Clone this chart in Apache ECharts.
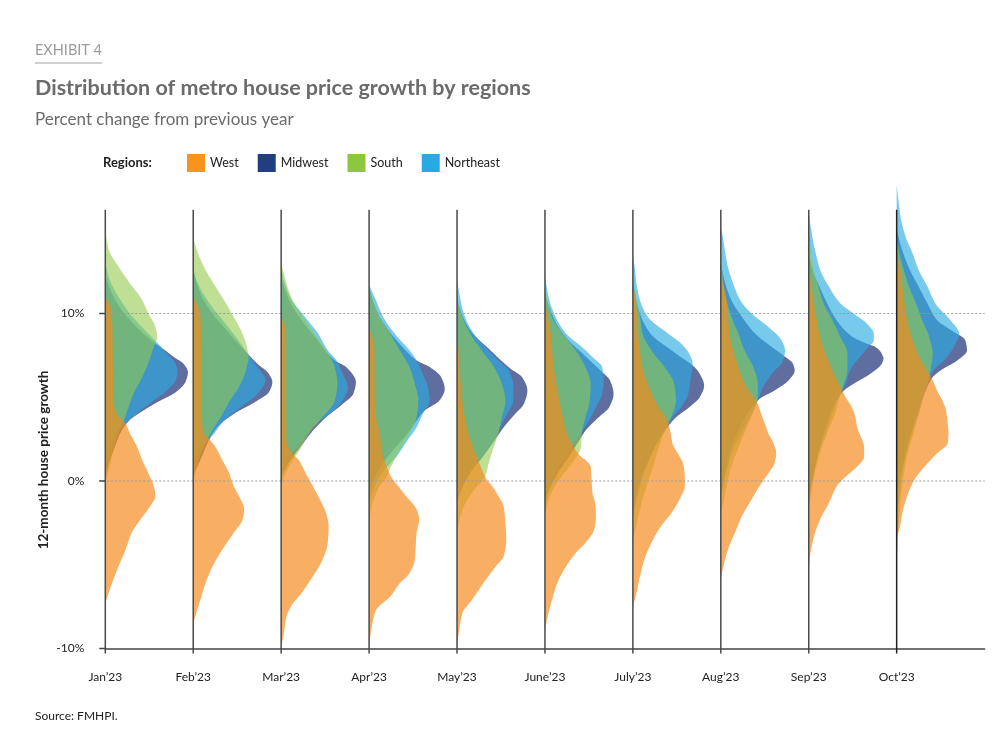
<!DOCTYPE html>
<html><head><meta charset="utf-8">
<script src="https://cdn.jsdelivr.net/npm/echarts@6/dist/echarts.min.js"></script>
<style>html,body{margin:0;padding:0;background:#fff}#c{width:1000px;height:749px}</style>
</head><body><div id="c"></div>
<script>
// ---------- DATA ----------
const months = ['Jan’23','Feb’23','Mar’23','Apr’23','May’23','June’23','July’23','Aug’23','Sep’23','Oct’23'];
const regionNames = ['West','Midwest','South','Northeast'];
const yTickValues = [-10, 0, 10];
const gridValues = [0, 10];
const lineTop = 16.2;
// per month: [growth %, density width (in units of month spacing)]
const west = [
  [[-7.3,0],[-6.1,0.076],[-5.1,0.15],[-4.1,0.23],[-3.1,0.30],[-2.3,0.40],[-1.5,0.51],[-0.9,0.57],[-0.3,0.55],[0.46,0.49],[1.25,0.42],[2.05,0.36],[2.85,0.28],[3.44,0.23],[4.0,0.13],[4.8,0.095],[6.8,0.087],[8.8,0.083],[10.2,0.07],[11.0,0]],
  [[-8.5,0],[-7.1,0.08],[-6.1,0.14],[-5.1,0.22],[-4.1,0.33],[-3.1,0.46],[-2.3,0.56],[-1.7,0.58],[-1.1,0.54],[-0.3,0.46],[0.46,0.41],[1.25,0.33],[2.05,0.25],[2.4,0.2],[3.0,0.11],[4,0.1],[7,0.095],[10,0.08],[11,0]],
  [[-9.9,0],[-9.1,0.03],[-8.1,0.06],[-7.5,0.11],[-6.7,0.23],[-5.7,0.36],[-4.7,0.47],[-3.7,0.53],[-2.7,0.54],[-1.9,0.51],[-1.1,0.44],[-0.3,0.36],[0.46,0.28],[1.25,0.2],[1.8,0.1],[2.5,0.06],[6,0.055],[9,0.05],[9.8,0]],
  [[-9.9,0],[-8.7,0.03],[-7.7,0.08],[-6.9,0.24],[-6.1,0.35],[-5.5,0.46],[-4.7,0.52],[-3.9,0.53],[-3.1,0.54],[-2.3,0.57],[-1.7,0.54],[-0.9,0.42],[-0.3,0.33],[0.26,0.25],[0.86,0.2],[1.65,0.15],[2.85,0.12],[3.8,0.08],[5,0.065],[8,0.06],[9.2,0]],
  [[-9.9,0],[-9.1,0.02],[-7.9,0.06],[-7.1,0.17],[-6.1,0.30],[-5.1,0.44],[-4.5,0.53],[-3.5,0.56],[-2.5,0.55],[-1.5,0.53],[-0.9,0.47],[-0.3,0.40],[0.06,0.34],[0.86,0.27],[1.65,0.21],[2.85,0.13],[4.8,0.06],[6.8,0.03],[9.2,0]],
  [[-8.9,0],[-8.1,0.03],[-7.1,0.08],[-6.1,0.14],[-5.1,0.24],[-4.3,0.35],[-3.7,0.46],[-2.9,0.56],[-2.1,0.58],[-1.3,0.57],[-0.7,0.54],[0.06,0.53],[0.86,0.52],[1.25,0.46],[1.5,0.4],[2.85,0.25],[4.4,0.18],[6.8,0.10],[8.8,0.065],[10.6,0]],
  [[-7.5,0],[-6.7,0.04],[-5.7,0.08],[-4.7,0.13],[-3.7,0.21],[-2.7,0.32],[-1.9,0.44],[-1.1,0.53],[-0.3,0.59],[0.26,0.59],[1.05,0.57],[1.65,0.51],[2.25,0.45],[2.85,0.43],[3.44,0.40],[4.8,0.25],[6.8,0.11],[8.8,0.06],[10.8,0.03],[11.8,0]],
  [[-5.9,0],[-5.1,0.03],[-4.1,0.08],[-3.1,0.16],[-2.1,0.24],[-1.1,0.35],[-0.3,0.44],[0.46,0.54],[1.05,0.61],[1.65,0.63],[2.25,0.60],[2.85,0.54],[3.44,0.50],[4.0,0.46],[4.6,0.42],[5.8,0.27],[6.8,0.2],[8.8,0.10],[10.8,0.065],[11.8,0.02],[12.2,0]],
  [[-5.3,0],[-4.3,0.02],[-3.3,0.06],[-2.3,0.13],[-1.3,0.23],[-0.3,0.32],[0.26,0.42],[0.86,0.55],[1.45,0.63],[2.05,0.63],[2.65,0.59],[3.24,0.55],[3.84,0.53],[4.4,0.49],[5.0,0.42],[5.4,0.38],[6.6,0.27],[8.6,0.13],[10.6,0.06],[12,0.02],[12.6,0]],
  [[-3.3,0],[-2.9,0.03],[-1.9,0.065],[-0.9,0.12],[0.06,0.2],[1.05,0.35],[1.65,0.46],[2.25,0.58],[2.85,0.59],[3.44,0.58],[4.24,0.56],[4.8,0.52],[5.4,0.46],[6.0,0.41],[7.6,0.24],[9.6,0.12],[11.6,0.065],[13,0.03],[13.4,0]]
];
const midwest = [
  [[0.3,0],[0.86,0.03],[1.85,0.095],[2.85,0.17],[3.6,0.27],[4.1,0.40],[4.7,0.59],[5.3,0.80],[5.9,0.91],[6.5,0.94],[7.0,0.89],[7.4,0.78],[7.8,0.68],[8.5,0.5],[9.5,0.3],[10.5,0.15],[11.5,0.05],[12.3,0]],
  [[0.3,0],[1.25,0.08],[2.45,0.18],[3.2,0.27],[4.0,0.46],[4.8,0.73],[5.3,0.86],[5.9,0.90],[6.4,0.86],[7.0,0.73],[8,0.55],[9,0.38],[10,0.22],[11,0.1],[12,0.03],[12.7,0]],
  [[0.3,0],[1.2,0.1],[2.25,0.25],[3.0,0.36],[3.8,0.51],[4.6,0.70],[5.2,0.82],[5.9,0.85],[6.8,0.74],[7.2,0.61],[8.5,0.4],[9.5,0.25],[10.5,0.12],[11.5,0.04],[12.2,0]],
  [[-0.8,0],[0,0.05],[1,0.15],[2,0.3],[2.85,0.44],[3.6,0.54],[4.2,0.63],[4.8,0.80],[5.5,0.86],[6.2,0.82],[6.8,0.69],[7.2,0.54],[8,0.38],[9,0.22],[10,0.1],[11,0.03],[11.6,0]],
  [[-1.2,0],[-0.5,0.05],[0.5,0.15],[1.5,0.3],[2.6,0.45],[3.2,0.53],[4.0,0.66],[4.6,0.76],[5.4,0.80],[6.2,0.74],[6.7,0.61],[7.8,0.38],[9,0.15],[10,0.05],[10.8,0]],
  [[-1.2,0],[-0.5,0.05],[0.5,0.15],[1.5,0.28],[2.6,0.41],[3.0,0.46],[3.8,0.61],[4.4,0.73],[5.2,0.78],[6.0,0.74],[6.6,0.63],[7.5,0.45],[8.5,0.25],[9.5,0.12],[10.5,0.04],[11.2,0]],
  [[-2,0],[-1.5,0.02],[0,0.08],[1.5,0.2],[2.5,0.3],[3.4,0.42],[3.8,0.49],[4.4,0.64],[5.0,0.76],[5.7,0.81],[6.4,0.76],[6.9,0.68],[7.2,0.6],[7.8,0.44],[8.8,0.2],[10,0.08],[11,0.03],[12,0]],
  [[-1,0],[0.5,0.05],[2,0.12],[3,0.2],[4,0.3],[4.9,0.44],[5.4,0.61],[6.0,0.77],[6.6,0.84],[7.0,0.82],[7.5,0.71],[8,0.58],[8.8,0.39],[9.8,0.24],[10.8,0.12],[12,0.04],[13,0]],
  [[-1,0],[0,0.04],[1.5,0.1],[3,0.18],[4.5,0.28],[5.4,0.40],[5.8,0.51],[6.4,0.70],[7.0,0.83],[7.3,0.85],[7.6,0.83],[8.0,0.76],[8.2,0.66],[8.6,0.5],[9.5,0.33],[10.5,0.22],[11.5,0.13],[12.5,0.05],[13.5,0]],
  [[-1,0],[0.5,0.05],[2,0.12],[3.5,0.2],[5,0.3],[6.2,0.41],[6.6,0.5],[7.2,0.69],[7.8,0.80],[8.4,0.78],[9.0,0.62],[9.6,0.46],[10.6,0.35],[11.6,0.25],[12.6,0.15],[14,0.05],[15,0]]
];
const south = [
  [[-0.2,0],[0.9,0.05],[2.4,0.12],[3.6,0.21],[4.2,0.25],[5.2,0.32],[6.2,0.42],[7.2,0.50],[8.0,0.55],[8.6,0.59],[9.2,0.57],[10,0.49],[10.8,0.42],[11.8,0.28],[12.8,0.15],[13.8,0.04],[14.9,0]],
  [[0,0],[1,0.05],[2,0.12],[2.85,0.2],[3.8,0.31],[4.8,0.42],[5.8,0.54],[6.8,0.61],[7.4,0.63],[8.0,0.61],[8.8,0.56],[9.8,0.46],[10.8,0.35],[11.8,0.23],[12.8,0.12],[13.8,0.04],[14.5,0]],
  [[-0.5,0],[0,0.02],[1.05,0.11],[1.85,0.21],[2.85,0.32],[3.8,0.47],[4.8,0.61],[5.8,0.64],[6.8,0.61],[7.8,0.51],[8.8,0.38],[9.8,0.25],[10.8,0.13],[11.8,0.06],[13,0]],
  [[-2.5,0],[-1.5,0.03],[-0.5,0.1],[0.26,0.2],[0.86,0.25],[1.85,0.35],[2.85,0.46],[3.8,0.54],[4.8,0.56],[5.8,0.52],[6.8,0.46],[7.8,0.35],[8.8,0.24],[9.8,0.12],[10.8,0.045],[11.6,0]],
  [[-3,0],[-2.5,0.02],[-1.5,0.08],[-0.5,0.2],[0.26,0.32],[1.05,0.36],[2.05,0.42],[2.85,0.47],[3.8,0.51],[4.8,0.55],[5.8,0.51],[6.8,0.42],[7.8,0.28],[8.8,0.15],[9.8,0.06],[10.8,0]],
  [[-2,0],[-1,0.05],[0,0.15],[1,0.3],[2.05,0.41],[2.85,0.42],[3.8,0.46],[4.8,0.51],[5.8,0.52],[6.8,0.46],[7.8,0.35],[8.8,0.2],[9.8,0.08],[10.8,0.03],[11.5,0]],
  [[-3.6,0],[-3.1,0.02],[-1.1,0.11],[0.86,0.23],[2.4,0.32],[3.4,0.40],[4.0,0.45],[4.8,0.49],[5.8,0.47],[6.8,0.36],[7.8,0.21],[8.8,0.11],[9.8,0.08],[10.8,0.04],[12,0]],
  [[-2,0],[-1,0.04],[0.5,0.1],[2,0.2],[3,0.28],[4,0.36],[5.0,0.42],[5.8,0.42],[6.8,0.37],[7.8,0.27],[8.8,0.2],[9.8,0.12],[10.8,0.065],[11.8,0.03],[13.4,0]],
  [[-1.5,0],[-1,0.02],[0.5,0.07],[2,0.15],[3,0.22],[4,0.3],[5,0.35],[5.8,0.40],[6.6,0.44],[7.6,0.44],[8.6,0.36],[9.6,0.27],[10.6,0.17],[11.6,0.11],[12.6,0.06],[13.6,0.03],[14.6,0]],
  [[-4.7,0],[-2,0.03],[0,0.07],[1.5,0.12],[3,0.2],[4,0.25],[5,0.3],[6,0.36],[6.8,0.39],[7.6,0.41],[8.6,0.37],[9.6,0.29],[10.6,0.22],[11.6,0.14],[12.6,0.08],[13.6,0.03],[14.6,0]]
];
const northeast = [
  [[1,0],[2,0.05],[3,0.15],[3.6,0.27],[4.2,0.40],[4.8,0.55],[5.4,0.70],[6.0,0.80],[6.5,0.82],[7.0,0.80],[7.6,0.70],[8.2,0.6],[9,0.45],[10,0.28],[11,0.15],[12,0.05],[13,0]],
  [[1,0],[2,0.1],[2.85,0.24],[3.6,0.35],[4.4,0.54],[5.2,0.73],[6.0,0.82],[6.8,0.73],[7.5,0.63],[8.5,0.5],[9.5,0.35],[10.5,0.2],[11.5,0.08],[12.5,0]],
  [[0,0],[0.5,0.02],[1.5,0.1],[2.45,0.25],[3.25,0.36],[4.0,0.55],[4.8,0.70],[5.6,0.76],[6.4,0.70],[7.2,0.63],[7.8,0.53],[8.8,0.42],[9.8,0.27],[11,0.1],[12,0.03],[12.8,0]],
  [[-1.2,0],[-0.5,0.05],[0.5,0.15],[1.45,0.31],[2.45,0.44],[3.2,0.54],[4.0,0.61],[4.8,0.69],[5.6,0.67],[6.4,0.61],[7.2,0.54],[7.8,0.46],[8.8,0.29],[9.8,0.16],[11,0.06],[11.7,0]],
  [[-1.2,0],[-0.5,0.05],[0.5,0.15],[1.5,0.3],[2.6,0.44],[3.2,0.49],[4.0,0.57],[4.8,0.64],[5.6,0.64],[6.6,0.59],[7.2,0.47],[7.8,0.36],[8.8,0.19],[9.8,0.09],[10.8,0.04],[12,0]],
  [[-1.5,0],[-1,0.02],[0,0.08],[1,0.18],[2,0.3],[2.85,0.41],[3.6,0.50],[4.4,0.58],[5.2,0.65],[6.0,0.67],[6.8,0.65],[7.4,0.54],[8.0,0.42],[8.8,0.24],[9.8,0.12],[10.8,0.05],[12.2,0]],
  [[-2,0],[-1,0.05],[0.5,0.13],[2,0.25],[3.2,0.38],[3.8,0.45],[4.4,0.55],[5.2,0.63],[6.2,0.66],[7.0,0.68],[7.6,0.64],[8.2,0.55],[8.8,0.40],[9.8,0.17],[10.8,0.08],[11.8,0.04],[12.8,0.02],[13.4,0]],
  [[-1,0],[0.5,0.06],[2,0.15],[3,0.25],[4,0.35],[4.8,0.42],[5.6,0.48],[6.4,0.58],[7.2,0.71],[7.8,0.73],[8.4,0.69],[9.2,0.54],[10,0.35],[10.8,0.22],[11.8,0.14],[12.8,0.08],[13.8,0.045],[14.8,0.015],[15.1,0]],
  [[-1,0],[0,0.04],[1.5,0.1],[3,0.2],[4.5,0.3],[5.8,0.42],[6.6,0.47],[7.2,0.55],[8.0,0.68],[8.4,0.74],[8.8,0.74],[9.4,0.66],[10,0.51],[10.6,0.36],[11.6,0.23],[12.6,0.13],[13.6,0.08],[14.6,0.04],[16,0]],
  [[-2,0],[-1,0.03],[1,0.08],[2.5,0.15],[4,0.25],[5.5,0.33],[6.6,0.42],[7.2,0.54],[8.0,0.65],[8.8,0.71],[9.6,0.61],[10.6,0.44],[11.6,0.35],[12.6,0.25],[13.6,0.18],[14.6,0.1],[15.6,0.05],[17,0.015],[17.7,0]]
];

// ---------- STYLE ----------
const baseColors = { West:'#F7941D', Midwest:'#1F3F80', South:'#8DC63F', Northeast:'#27AAE1' };
const fillColors = { West:'#F5891A', Midwest:'#283A7E', South:'#94CA4C', Northeast:'#2AACE2' };
const fillOpacity = { West:0.68, Midwest:0.74, South:0.6, Northeast:0.64 };
const FONT = 'Lato, "Open Sans", sans-serif';

// monotone cubic interpolation (rendering only)
function monotone(pts){
  const n = pts.length, xs = pts.map(p=>p[0]), ys = pts.map(p=>p[1]);
  const d = [], m = new Array(n);
  for (let i=0;i<n-1;i++) d.push((ys[i+1]-ys[i])/(xs[i+1]-xs[i]));
  m[0] = d[0]; m[n-1] = d[n-2];
  for (let i=1;i<n-1;i++){
    if (d[i-1]*d[i] <= 0) m[i] = 0;
    else { const h0=xs[i]-xs[i-1], h1=xs[i+1]-xs[i]; const w1=2*h1+h0, w2=h1+2*h0; m[i]=(w1+w2)/(w1/d[i-1]+w2/d[i]); }
  }
  return function(x){
    let i = 0; while (i < n-2 && x > xs[i+1]) i++;
    const h = xs[i+1]-xs[i], t = Math.min(1, Math.max(0, (x-xs[i])/h));
    const t2=t*t, t3=t2*t;
    const v = (2*t3-3*t2+1)*ys[i] + (t3-2*t2+t)*h*m[i] + (-2*t3+3*t2)*ys[i+1] + (t3-t2)*h*m[i+1];
    return Math.max(0, v);
  };
}

function makeRender(data, name){
  return function(params, api){
    const i = api.value(0);
    const pts = data[i];
    const f = monotone(pts);
    const x0 = api.coord([i, 0])[0];
    const step = api.coord([1, 0])[0] - api.coord([0, 0])[0];
    const v0 = pts[0][0], v1 = pts[pts.length-1][0];
    const poly = [[x0, api.coord([i, v0])[1]]];
    for (let v = v0; v < v1; v += 0.04) poly.push([x0 + f(v)*step, api.coord([i, v])[1]]);
    poly.push([x0, api.coord([i, v1])[1]]);
    return { type:'polygon', shape:{ points: poly }, style:{ fill: fillColors[name], opacity: fillOpacity[name] } };
  };
}

const monthIdx = months.map((m,i)=>[i]);
const regionData = { West: west, Midwest: midwest, South: south, Northeast: northeast };
const drawOrder = ['Midwest','Northeast','South','West'];

const series = drawOrder.map((name, k) => ({
  type:'custom', name, coordinateSystem:'cartesian2d', clip:false,
  itemStyle:{ color: baseColors[name] }, z: 2 + k,
  encode:{ x:0 }, data: monthIdx, renderItem: makeRender(regionData[name], name), silent:true
}));

// frame: month lines, dashed grid, y ticks
series.push({
  type:'custom', name:'frame', coordinateSystem:'cartesian2d', clip:false, z: 10, silent:true,
  encode:{ x:0 }, data:[[0]],
  renderItem: function(params, api){
    const children = [];
    const left = api.coord([0, 0])[0] - 6;
    const right = api.coord([10, 0])[0];
    gridValues.forEach(g => {
      const y = api.coord([0, g])[1];
      children.push({ type:'line', shape:{ x1:left, y1:y, x2:right, y2:y }, style:{ stroke:'#9a9a9a', lineWidth:1, lineDash:[2,2] } });
    });
    yTickValues.forEach(g => {
      const y = api.coord([0, g])[1];
      children.push({ type:'line', shape:{ x1:left, y1:y, x2:left+6, y2:y }, style:{ stroke:'#444', lineWidth:1.5 } });
    });
    months.forEach((m, i) => {
      const b = api.coord([i, -10]), t = api.coord([i, lineTop]);
      children.push({ type:'line', shape:{ x1:b[0], y1:b[1]+5, x2:t[0], y2:t[1] }, style:{ stroke: i===9 ? '#222' : '#4a4a4a', lineWidth:1.5 } });
    });
    return { type:'group', children };
  }
});

const option = {
  backgroundColor:'#fff',
  animation:false,
  grid:{ left:105.3, right:15.4, top:146, bottom:100.5 },
  xAxis:{
    type:'category', data: months.concat(['']), boundaryGap:false,
    axisLine:{ onZero:false, lineStyle:{ color:'#444', width:1.5 } },
    axisTick:{ show:false }, splitLine:{ show:false },
    axisLabel:{ interval:0, margin:23, color:'#222', fontSize:12, fontFamily: FONT }
  },
  yAxis:{
    type:'value', min:-10, max:20, interval:10,
    axisLine:{ show:false }, axisTick:{ show:false }, splitLine:{ show:false },
    axisLabel:{ formatter: v => v + '%', showMaxLabel:false, margin:21, color:'#222', fontSize:12, fontFamily: FONT }
  },
  legend:{
    left:182, top:149, itemWidth:18, itemHeight:18, itemGap:19, icon:'rect',
    data: regionNames, selectedMode:false,
    textStyle:{ color:'#222', fontSize:12.5, fontFamily: FONT }
  },
  graphic:[
    { type:'text', left:35, top:43, style:{ text:'EXHIBIT 4', font:'14.5px '+FONT, fill:'#9b9b9b' } },
    { type:'rect', shape:{ x:35, y:62, width:67, height:2 }, style:{ fill:'#d0d0d0' } },
    { type:'text', left:35, top:77, style:{ text:'Distribution of metro house price growth by regions', font:'bold 21.5px '+FONT, fill:'#6b6b6b' } },
    { type:'text', left:35, top:111, style:{ text:'Percent change from previous year', font:'17px '+FONT, fill:'#6b6b6b' } },
    { type:'text', left:103, top:156, style:{ text:'Regions:', font:'bold 13px '+FONT, fill:'#222' } },
    { type:'text', x:44, y:460, rotation: Math.PI/2, style:{ text:'12-month house price growth', font:'bold 13.5px '+FONT, fill:'#222', align:'center', verticalAlign:'middle' } },
    { type:'text', left:35, top:710, style:{ text:'Source: FMHPI.', font:'12px '+FONT, fill:'#222' } }
  ],
  series
};

const chart = echarts.init(document.getElementById('c'), null, { renderer:'canvas' });
chart.setOption(option);
</script>
</body></html>
